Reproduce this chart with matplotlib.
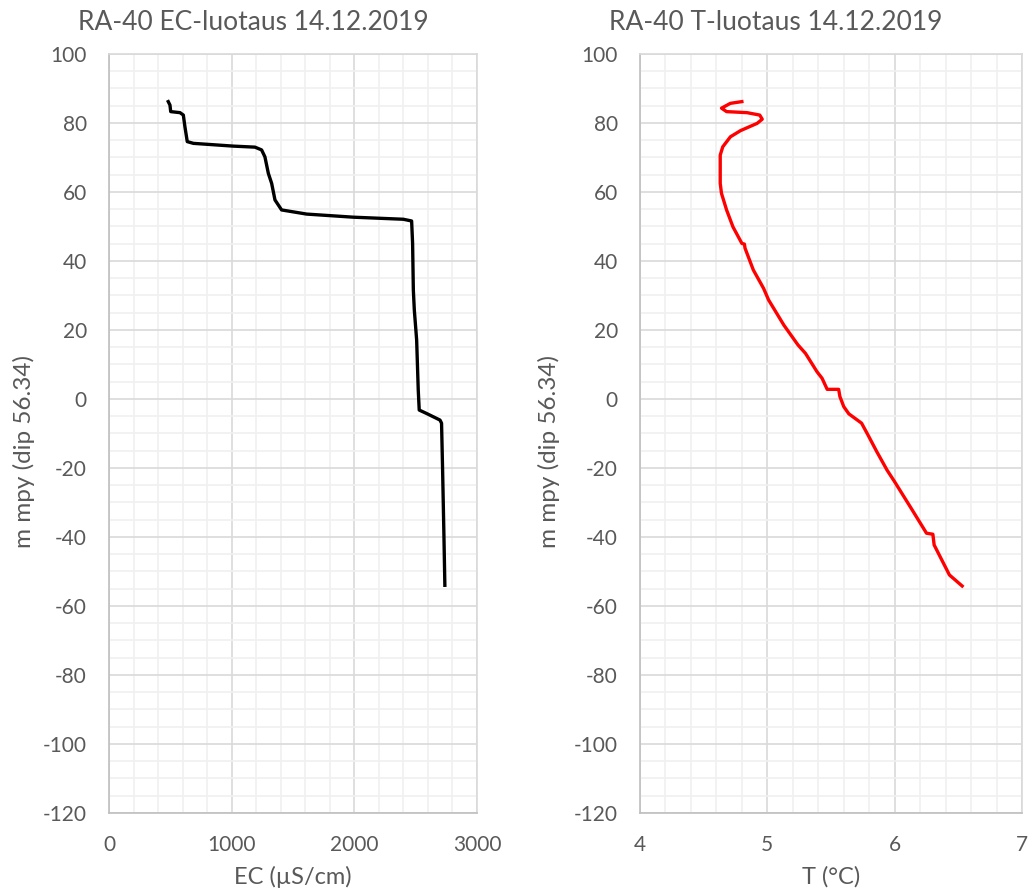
"""
RA-40 EC- ja T-luotaus 14.12.2019, kaksi rinnakkaista syvyysprofiilia.
"""

import matplotlib
matplotlib.use("Agg")
import matplotlib.pyplot as plt
from matplotlib.ticker import MultipleLocator

# EC profile (uS/cm) vs depth (m mpy)
ec_values = [483, 497, 503, 579, 606, 619, 638, 688, 1013, 1190, 1244, 1271,
             1299, 1326, 1353, 1407, 1611, 1991, 2399, 2467, 2475, 2481, 2489,
             2508, 2521, 2529, 2589, 2698, 2711, 2719, 2730, 2738]
ec_depth = [86.2, 85.2, 83.3, 83.0, 82.3, 78.9, 74.6, 74.1, 73.3, 73.0, 72.2,
            70.2, 65.4, 62.5, 57.7, 54.8, 53.6, 52.7, 52.1, 51.6, 45.1, 31.6,
            25.8, 17.1, 2.6, -3.2, -4.2, -6.1, -7.0, -19.6, -38.9, -54.0]

# temperature profile (degC) vs depth
t_values = [4.80, 4.71, 4.64, 4.68, 4.84, 4.94, 4.96, 4.92, 4.79, 4.71, 4.65,
            4.63, 4.63, 4.64, 4.68, 4.73, 4.80, 4.82, 4.825, 4.89, 4.97, 5.01,
            5.13, 5.24, 5.30, 5.39, 5.43, 5.47, 5.56, 5.57, 5.60, 5.64, 5.74,
            5.79, 5.86, 5.94, 6.00, 6.13, 6.25, 6.30, 6.31, 6.43, 6.53]
t_depth = [86.2, 85.7, 84.3, 83.3, 83.0, 82.3, 81.1, 79.9, 77.8, 76.0, 73.1,
           70.7, 62.5, 59.6, 54.8, 49.9, 45.1, 44.9, 43.7, 37.4, 32.1, 28.7,
           21.4, 15.7, 13.2, 7.9, 6.0, 2.8, 2.8, 0.7, -2.2, -4.3, -7.0, -10.4,
           -15.3, -20.6, -24.0, -31.7, -38.9, -39.2, -42.3, -51.0, -54.2]

titles = ["RA-40 EC-luotaus 14.12.2019", "RA-40 T-luotaus 14.12.2019"]
xlabels = ["EC (µS/cm)", "T (°C)"]
ylabel = "m mpy (dip 56.34)"

TXT = "#595959"
plt.rcParams["font.family"] = ["Lato", "DejaVu Sans"]
plt.rcParams["axes.unicode_minus"] = False

fig = plt.figure(figsize=(10.34, 8.96), dpi=100)
W, H = 1034, 896


def make_axes(left, right):
    ax = fig.add_axes([left / W, 1 - 813 / H, (right - left) / W, (813 - 54) / H])
    ax.set_ylim(-120, 100)
    ax.yaxis.set_major_locator(MultipleLocator(20))
    ax.yaxis.set_minor_locator(MultipleLocator(5))
    ax.grid(which="major", color="#d9d9d9", lw=1.2)
    ax.grid(which="minor", color="#f0f0f0", lw=1.2)
    ax.set_axisbelow(True)
    for s in ax.spines.values():
        s.set_color("#d9d9d9")
        s.set_linewidth(1.2)
    ax.spines["left"].set_color("#bfbfbf")
    ax.spines["bottom"].set_color("#bfbfbf")
    ax.tick_params(which="both", length=0, labelsize=15, labelcolor=TXT)
    ax.tick_params(axis="x", pad=16)
    ax.tick_params(axis="y", pad=16)
    return ax


ax1 = make_axes(109, 477)
ax1.plot(ec_values, ec_depth, color="black", lw=2.4)
ax1.set_xlim(0, 3000)
ax1.xaxis.set_major_locator(MultipleLocator(1000))
ax1.xaxis.set_minor_locator(MultipleLocator(200))

ax2 = make_axes(640, 1022)
ax2.plot(t_values, t_depth, color="#ff0000", lw=2.4)
ax2.set_xlim(4, 7)
ax2.xaxis.set_major_locator(MultipleLocator(1))
ax2.xaxis.set_minor_locator(MultipleLocator(0.2))

for ax, xl in zip([ax1, ax2], xlabels):
    ax.set_xlabel(xl, fontsize=17, color=TXT, labelpad=8)

fig.text(253 / W, 1 - 23 / H, titles[0], ha="center", va="center", fontsize=19, color=TXT)
fig.text(776 / W, 1 - 23 / H, titles[1], ha="center", va="center", fontsize=19, color=TXT)
fig.text(24 / W, 1 - 452 / H, ylabel, ha="center", va="center", rotation=90, fontsize=17.5, color=TXT)
fig.text(549 / W, 1 - 452 / H, ylabel, ha="center", va="center", rotation=90, fontsize=17.5, color=TXT)

fig.savefig("out.png", dpi=100, facecolor="white")
